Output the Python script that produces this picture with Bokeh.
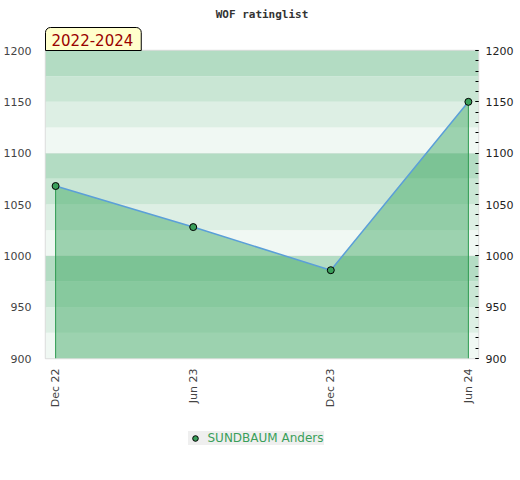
from bokeh.plotting import figure
from bokeh.layouts import column
from bokeh.models import (BoxAnnotation, Legend, LegendItem, LinearAxis,
                          FixedTicker, Range1d, Title)
from bokeh.embed import file_html
from bokeh.resources import INLINE
import math

# ---- data ----
periods = ["Dec 22", "Jun 23", "Dec 23", "Jun 24"]
ratings = [1068, 1028, 986, 1150]
player = "SUNDBAUM Anders"
span_label = "2022-2024"
y_ticks = [900, 950, 1000, 1050, 1100, 1150, 1200]

xs = list(range(len(periods)))
y_min, y_max = 900, 1200

p = figure(output_backend="svg", toolbar_location=None, title=None,
           width=516, height=410,
           x_range=Range1d(-0.0735, len(periods) - 1 + 0.0735),
           y_range=Range1d(y_min, y_max),
           min_border_left=37, min_border_right=37, min_border_top=50, min_border_bottom=50)

p.background_fill_color = "white"
p.outline_line_color = "#dddddd"
p.outline_line_width = 1.5

# period tag (closest to frame)
tag = Title(text=span_label, align="left", text_font="DejaVu Sans", text_font_size="15px",
            text_color="#990000", text_font_style="normal",
            background_fill_color="#ffffcc", border_line_color="black", border_line_width=1,
            padding=dict(left=6, right=8, top=6, bottom=5),
            border_radius=dict(top_left=5, top_right=5, bottom_right=0, bottom_left=0),
            standoff=0, offset=0)
p.add_layout(tag, "above")

main_title = Title(text="WOF ratinglist", align="center", text_font="DejaVu Sans Mono",
                   text_font_style="bold", text_font_size="11px", text_color="#333333",
                   standoff=10)
p.add_layout(main_title, "above")

# background bands (styling, 4 shades per 100 points)
band_colors = ["#f0f8f3", "#ddefe4", "#c9e6d4", "#b3dcc3"]
b = y_min
i = 0
while b < y_max:
    p.add_layout(BoxAnnotation(bottom=b, top=b + 25, fill_color=band_colors[i % 4],
                               fill_alpha=1.0, line_color=None, level="underlay"))
    b += 25
    i += 1

p.xgrid.visible = False
p.ygrid.ticker = FixedTicker(ticks=[1000, 1100])
p.ygrid.grid_line_color = "#d6d6d6"
p.ygrid.grid_line_width = 1

# area
p.varea(x=xs, y1=[y_min] * len(xs), y2=ratings, fill_color="#3da862", fill_alpha=0.47)
p.segment(x0=[xs[0], xs[-1]], y0=[y_min, y_min], x1=[xs[0], xs[-1]],
          y1=[ratings[0], ratings[-1]], line_color="#2e9a50", line_width=1)
p.line(xs, ratings, line_color="#5b9fd8", line_width=1.5)
p.scatter(xs, ratings, size=7, fill_color="#3a9f5a", line_color="black", line_width=1)

# axes
p.xaxis.ticker = FixedTicker(ticks=xs)
p.xaxis.major_label_overrides = {x: lbl for x, lbl in zip(xs, periods)}
p.xaxis.major_label_orientation = math.pi / 2
p.xaxis.axis_line_color = None
p.xaxis.major_tick_line_color = None
p.xaxis.minor_tick_line_color = None
p.xaxis.major_tick_in = 0
p.xaxis.major_tick_out = 0
p.xaxis.major_label_text_font = "DejaVu Sans"
p.xaxis.major_label_text_font_size = "11px"
p.xaxis.major_label_text_color = "#444444"
p.xaxis.major_label_standoff = 10

p.yaxis.ticker = FixedTicker(ticks=y_ticks)
p.yaxis.axis_line_color = None
p.yaxis.major_tick_line_color = None
p.yaxis.minor_tick_line_color = None
p.yaxis.major_label_text_font = "DejaVu Sans"
p.yaxis.major_label_text_font_size = "11px"
p.yaxis.major_label_text_color = "#444444"
p.yaxis.major_label_standoff = 8

minor = [v for v in range(y_min, y_max + 1, 10)]
ra = LinearAxis(ticker=FixedTicker(ticks=y_ticks, minor_ticks=minor))
ra.axis_line_color = None
ra.major_tick_in = 3
ra.major_tick_out = 0
ra.minor_tick_in = 3
ra.minor_tick_out = 0
ra.major_tick_line_color = "black"
ra.minor_tick_line_color = "black"
ra.major_label_text_font = "DejaVu Sans"
ra.major_label_text_font_size = "11px"
ra.major_label_text_color = "#222222"
ra.major_label_standoff = 7
p.add_layout(ra, "right")

# legend strip below the chart (its series glyph lies outside its own view ranges)
lg = figure(output_backend="svg", toolbar_location=None, width=504, height=56,
            x_range=Range1d(-10, -9), y_range=Range1d(0, 1),
            min_border=0, min_border_left=0, min_border_right=0,
            min_border_top=0, min_border_bottom=0)
lg.axis.visible = False
lg.grid.visible = False
lg.outline_line_color = None
key = lg.scatter(x=xs, y=ratings, size=7, fill_color="#3a9f5a", line_color="black", line_width=1)
legend = Legend(items=[LegendItem(label=player, renderers=[key])],
                location="center", orientation="horizontal",
                background_fill_color="#efefef", background_fill_alpha=1,
                border_line_color=None, label_text_color="#3a9f5a",
                label_text_font="DejaVu Sans", label_text_font_size="12px",
                glyph_width=14, glyph_height=14, padding=3, margin=0, spacing=0,
                label_standoff=6)
lg.add_layout(legend, "center")

layout = column(p, lg, spacing=0)
open("out.html", "w").write(file_html(layout, INLINE))
